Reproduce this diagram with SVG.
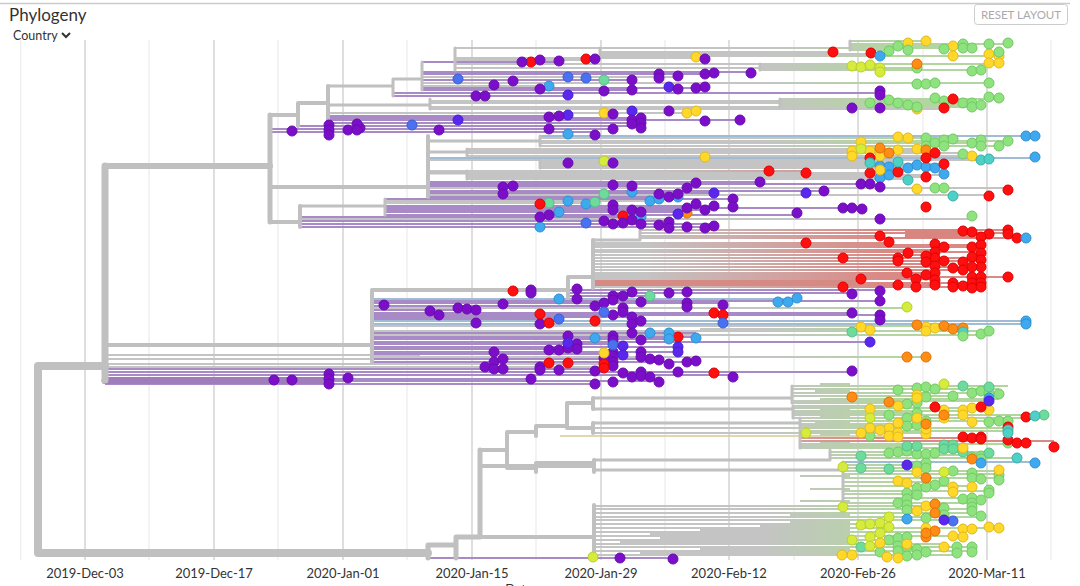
<svg xmlns="http://www.w3.org/2000/svg" width="1080" height="586" viewBox="0 0 1080 586">
<style>
text{font-family:Lato,"Liberation Sans",sans-serif;fill:#333}
.ax{font-size:13px;text-anchor:middle}
.gM{stroke:#dedede;stroke-width:2}
.gm{stroke:#efefef;stroke-width:1.5}
.bb{fill:none;stroke:#c0c0c0;stroke-linecap:round;stroke-linejoin:round}
.lg{fill:none;stroke:#c4c4c4;stroke-width:2}
.lp{fill:none;stroke:#a88ac6;stroke-width:2}
.lb{fill:none;stroke:#9fbcd4;stroke-width:2}
.ln{fill:none;stroke:url(#gg);stroke-width:2}
.lr{fill:none;stroke:url(#gr);stroke-width:2}
circle{stroke-width:1}
.p{fill:#7b0fc9;stroke:#6a0bb0}
.i{fill:#5a27ee;stroke:#4a1ed0}
.mb{fill:#4a72f0;stroke:#3a5fd0}
.b{fill:#3fa9ef;stroke:#2f8fd0}
.tl{fill:#4fd0c6;stroke:#3bb0a8}
.mt{fill:#6ddb9c;stroke:#55c084}
.m{fill:#8ee37e;stroke:#72c866}
.yg{fill:#d6ec3c;stroke:#b8cf2a}
.y{fill:#ffd82a;stroke:#e0b820}
.o{fill:#ff8c14;stroke:#e07000}
.r{fill:#ff1010;stroke:#e00000}
</style>
<defs>
<linearGradient id="gg" gradientUnits="userSpaceOnUse" x1="760" y1="0" x2="900" y2="0"><stop offset="0" stop-color="#c4c4c4"/><stop offset="1" stop-color="#b3d6a0"/></linearGradient>
<linearGradient id="gr" gradientUnits="userSpaceOnUse" x1="640" y1="0" x2="880" y2="0"><stop offset="0" stop-color="#c4c4c4"/><stop offset="1" stop-color="#da8a86"/></linearGradient>
</defs>
<rect width="1080" height="586" fill="#fff"/>
<g id="header">
<line x1="0" y1="3.5" x2="1070" y2="3.5" stroke="#ccc" stroke-width="1.5"/>
<text x="9" y="21" font-size="17">Phylogeny</text>
<text x="13" y="40" font-size="12.5">Country</text>
<path d="M62 33 L66 37 L70 33" fill="none" stroke="#333" stroke-width="2"/>
<rect x="974.5" y="4.5" width="93" height="20" rx="3" fill="#fff" stroke="#ccc"/>
<text x="1021" y="19" font-size="11.5" text-anchor="middle" style="fill:#aaa">RESET LAYOUT</text>
</g>
<g id="grid">
<path class="gm" d="M20.7 40V560M149 40V560M278 40V560M407 40V560M536 40V560M665 40V560M794 40V560M923 40V560M1051 40V560"/>
<path class="gM" d="M85 40V560M214 40V560M343 40V560M472 40V560M601 40V560M729 40V560M858 40V560M987 40V560"/>
<text class="ax" x="85" y="578">2019-Dec-03</text>
<text class="ax" x="214" y="578">2019-Dec-17</text>
<text class="ax" x="343" y="578">2020-Jan-01</text>
<text class="ax" x="472" y="578">2020-Jan-15</text>
<text class="ax" x="601" y="578">2020-Jan-29</text>
<text class="ax" x="729" y="578">2020-Feb-12</text>
<text class="ax" x="858" y="578">2020-Feb-26</text>
<text class="ax" x="987" y="578">2020-Mar-11</text>
<text class="ax" x="519" y="594">Date</text>
</g>
<g id="branches">
<path class="ln" d="M850 41H926M850 44H1008M850 46H953M455 48H972M850 50H889M600 56H999M455 64H999M760 66H870M455 68H917M760 70H981M422 83H989M780 99H999M430 101H944M430 103H972M780 105H981M430 107H972M540 138H953M540 141H1008M540 143H972M540 146H999M372 308H907M372 326H963M700 329H870M372 331H989M372 335H981M372 357H926M792 386H1008M792 389H999M792 393H989M792 396H953M820 399H999M792 401H989M792 403H917M793 406H898M793 408H989M793 411H963M793 413H917M793 415H1044M793 418H1026M800 421H1008M800 424H926M800 426H917M593 428H1008M800 431H1008M593 433H926M800 444H1008M800 446H917M800 448H963M830 452H989M830 455H981M830 458H1017M843 465H917M843 468H926M843 471H999M843 474H999M843 478H999M843 482H944M843 486H972M843 491H989M843 494H917M843 498H981M843 503H972M594 506H926M594 509H972M594 513H972M594 517H981M594 520H953M594 524H889M594 528H999M594 532H935M594 536H963M594 540H898M594 544H944M594 547H972M594 551H972M594 555H957M790 515H850M790 522H850M760 526H850M700 530H850M650 534H850M660 538H850M620 542H850M700 549H850M640 553H850M800 476H850M810 489H850M800 501H850M820 384H850M815 391H850M820 410H850M820 416H850M815 423H850M820 435H850M820 442H850"/>
<path class="lg" d="M600 52H834M600 54H871M455 58H705M455 60H595M422 77H678M422 86H549M430 109H944M328 113H696M467 149H917M467 151H926M467 153H963M467 156H972M428 160H981M540 162H898M540 164H944M540 166H917M540 168H935M467 173H898M467 175H944M467 177H926M467 179H908M428 188H1008M428 195H989M385 201H659M385 203H595M300 219H972M105 364H604M105 367H613M105 355H420M105 359H440"/>
<path d="M560 436H898" stroke="#d3cc9a" stroke-width="1.5" fill="none"/>
<path class="lp" d="M422 62H559M422 72H751M422 74H714M422 80H632M422 88H705M422 90H632M393 96H568M328 116H568M328 118H641M328 120H740M328 123H641M298 126H641M270 132H595M428 182H760M428 184H870M428 186H632M428 191H824M428 193H714M428 197H678M385 199H733M385 206H714M385 208H862M385 210H705M385 212H687M385 215H797M300 217H641M300 221H669M300 224H714M300 227H705M568 290H880M568 293H852M568 296H650M372 301H880M372 303H723M372 306H595M372 310H476M372 313H852M372 315H880M372 317H632M372 319H559M372 333H696M372 337H696M372 339H669M372 342H870M372 344H623M372 347H678M372 349H577M372 352H678M372 354H623M372 359H659M372 362H696M105 369H595M105 372H852M105 375H738M105 379H531M330 381H659M105 384H595M428 558H673"/>
<path class="lp" stroke-width="4.5" d="M393 93H880M270 129H613"/>
<path d="M105 380.5H330" stroke="#a07cba" stroke-width="7" fill="none" stroke-linecap="round"/>
<path class="lb" d="M540 136H1035M428 158H1035M372 299H797M372 321H1026M372 324H1026M843 462H1035"/>
<path class="lr" d="M640 230H1008M640 233H1008M640 236H880M640 238H1026M593 243H889M593 245H981M593 247H972M593 250H935M593 252H981M593 255H926M593 258H972M593 261H981M593 264H935M593 267H981M593 270H963M593 273H935M593 275H926M593 277H1008M593 279H935M860 283H981M593 285H935M593 287H981M428 171H806M800 438H981M800 441H1054"/>
<path d="M593 283H860" stroke="#d58a84" stroke-width="6" fill="none"/>
<path d="M905 234H975" stroke="#d8857f" stroke-width="9" fill="none"/>
<path class="bb" stroke-width="8" d="M38 366V553M38 366H105M38 553H428"/>
<path class="bb" stroke-width="7" d="M105 166V380"/>
<path class="bb" stroke-width="6" d="M105 166H270"/>
<path class="bb" stroke-width="5" d="M270 115V222M480 450V537M428 545V558M428 545H456M456 537V558M456 537H480"/>
<path class="bb" stroke-width="4" d="M105 345H372M372 290V362M270 115H298M298 103V126M298 103H328M328 86V126M270 187H428M428 136V197M270 222H300M300 206V227M372 290H568M568 277V298M568 277H593M593 240V288M480 450H507M507 432V468M507 432H536M536 426V436M536 426H567M567 403V428M567 403H593M567 428H593M593 398V409M593 423V433M507 468H536M536 463V472M536 463H593M480 466H594M594 460V472M480 537H594M594 505V553"/>
<path class="bb" stroke-width="3" d="M328 86H393M393 79V96M393 79H422M422 62V90M455 48V70M600 48V56M850 41V50M760 64V70M328 105H430M430 99V109M780 99V107M428 141H540M540 136V146M428 152H467M467 149V156M540 160V168M467 171V179M428 173H467M300 206H385M385 199V215M593 240H640M640 230V240M593 398H792M792 386V403M593 409H793M793 406V418M593 423H800M800 418V448M594 460H830M830 450V460M594 470H843M843 462V503"/>
</g>
<g id="tips-upper">
<g class="y"><circle cx="908" cy="43" r="5"/><circle cx="926" cy="41" r="5"/><circle cx="953" cy="46" r="5"/><circle cx="953" cy="56" r="5"/><circle cx="989" cy="54" r="5"/><circle cx="999" cy="56" r="5"/><circle cx="696" cy="57" r="5"/><circle cx="989" cy="63" r="5"/><circle cx="999" cy="63" r="5"/><circle cx="917" cy="109" r="5"/><circle cx="604" cy="113" r="5"/><circle cx="687" cy="113" r="5"/><circle cx="696" cy="111" r="5"/></g>
<g class="m"><circle cx="889" cy="51" r="5"/><circle cx="898" cy="46" r="5"/><circle cx="908" cy="50" r="5"/><circle cx="944" cy="49" r="5"/><circle cx="963" cy="44" r="5"/><circle cx="963" cy="48" r="5"/><circle cx="972" cy="48" r="5"/><circle cx="989" cy="44" r="5"/><circle cx="1008" cy="43" r="5"/><circle cx="999" cy="52" r="5"/><circle cx="917" cy="68" r="5"/><circle cx="972" cy="71" r="5"/><circle cx="981" cy="70" r="5"/><circle cx="917" cy="84" r="5"/><circle cx="926" cy="84" r="5"/><circle cx="935" cy="83" r="5"/><circle cx="989" cy="83" r="5"/><circle cx="870" cy="103" r="5"/><circle cx="889" cy="100" r="5"/><circle cx="898" cy="103" r="5"/><circle cx="908" cy="105" r="5"/><circle cx="917" cy="107" r="5"/><circle cx="935" cy="98" r="5"/><circle cx="944" cy="101" r="5"/><circle cx="963" cy="103" r="5"/><circle cx="972" cy="103" r="5"/><circle cx="972" cy="107" r="5"/><circle cx="981" cy="105" r="5"/><circle cx="989" cy="97" r="5"/><circle cx="999" cy="98" r="5"/></g>
<g class="mt"><circle cx="604" cy="80" r="5"/></g>
<g class="r"><circle cx="833" cy="52" r="5"/><circle cx="871" cy="53" r="5"/><circle cx="586" cy="59" r="5"/><circle cx="531" cy="62" r="5"/><circle cx="953" cy="99" r="5"/><circle cx="944" cy="108" r="5"/></g>
<g class="b"><circle cx="880" cy="56" r="5"/><circle cx="549" cy="86" r="5"/><circle cx="568" cy="134" r="5"/></g>
<g class="mb"><circle cx="458" cy="79" r="5"/><circle cx="568" cy="77" r="5"/><circle cx="586" cy="78" r="5"/><circle cx="412" cy="125" r="5"/></g>
<g class="i"><circle cx="669" cy="87" r="5"/><circle cx="568" cy="95" r="5"/><circle cx="458" cy="120" r="5"/><circle cx="568" cy="115" r="5"/><circle cx="632" cy="111" r="5"/></g>
<g class="p"><circle cx="705" cy="59" r="5"/><circle cx="595" cy="59" r="5"/><circle cx="522" cy="62" r="5"/><circle cx="540" cy="60" r="5"/><circle cx="559" cy="61" r="5"/><circle cx="751" cy="73" r="5"/><circle cx="494" cy="85" r="5"/><circle cx="513" cy="81" r="5"/><circle cx="540" cy="89" r="5"/><circle cx="604" cy="91" r="5"/><circle cx="632" cy="80" r="5"/><circle cx="632" cy="90" r="5"/><circle cx="659" cy="74" r="5"/><circle cx="659" cy="78" r="5"/><circle cx="678" cy="76" r="5"/><circle cx="678" cy="89" r="5"/><circle cx="696" cy="88" r="5"/><circle cx="705" cy="74" r="5"/><circle cx="705" cy="87" r="5"/><circle cx="714" cy="73" r="5"/><circle cx="476" cy="96" r="5"/><circle cx="485" cy="96" r="5"/><circle cx="880" cy="91" r="5"/><circle cx="880" cy="95" r="5"/><circle cx="852" cy="108" r="5"/><circle cx="880" cy="108" r="5"/><circle cx="360" cy="128" r="5"/><circle cx="439" cy="130" r="5"/><circle cx="549" cy="117" r="5"/><circle cx="559" cy="116" r="5"/><circle cx="613" cy="114" r="5"/><circle cx="632" cy="120" r="5"/><circle cx="641" cy="118" r="5"/><circle cx="641" cy="123" r="5"/><circle cx="641" cy="128" r="5"/><circle cx="632" cy="124" r="5"/><circle cx="669" cy="111" r="5"/><circle cx="705" cy="121" r="5"/><circle cx="549" cy="129" r="5"/><circle cx="595" cy="135" r="5"/><circle cx="613" cy="129" r="5"/><circle cx="740" cy="120" r="5"/><circle cx="292" cy="131" r="5"/><circle cx="329" cy="125" r="5"/><circle cx="329" cy="130" r="5"/><circle cx="329" cy="135" r="5"/><circle cx="348" cy="130" r="5"/><circle cx="357" cy="124" r="5"/><circle cx="357" cy="130" r="5"/></g>
<g class="yg"><circle cx="852" cy="66" r="5"/><circle cx="861" cy="67" r="5"/><circle cx="870" cy="65" r="5"/><circle cx="880" cy="68" r="5"/><circle cx="880" cy="72" r="5"/></g>
<g class="o"><circle cx="917" cy="64" r="5"/></g>
</g>
<g id="tips-mid">
<g class="b"><circle cx="1026" cy="136" r="5"/><circle cx="1035" cy="136" r="5"/><circle cx="1035" cy="157" r="5"/><circle cx="880" cy="166" r="5"/><circle cx="889" cy="167" r="5"/><circle cx="908" cy="168" r="5"/><circle cx="917" cy="165" r="5"/><circle cx="926" cy="167" r="5"/><circle cx="935" cy="168" r="5"/><circle cx="944" cy="174" r="5"/><circle cx="889" cy="175" r="5"/><circle cx="880" cy="178" r="5"/><circle cx="632" cy="192" r="5"/><circle cx="650" cy="201" r="5"/><circle cx="659" cy="199" r="5"/><circle cx="678" cy="197" r="5"/><circle cx="568" cy="201" r="5"/><circle cx="586" cy="204" r="5"/><circle cx="559" cy="212" r="5"/><circle cx="540" cy="227" r="5"/><circle cx="641" cy="217" r="5"/></g>
<g class="mb"><circle cx="586" cy="223" r="5"/></g>
<g class="m"><circle cx="926" cy="138" r="5"/><circle cx="926" cy="146" r="5"/><circle cx="935" cy="143" r="5"/><circle cx="944" cy="140" r="5"/><circle cx="944" cy="146" r="5"/><circle cx="953" cy="139" r="5"/><circle cx="972" cy="143" r="5"/><circle cx="981" cy="140" r="5"/><circle cx="981" cy="146" r="5"/><circle cx="999" cy="146" r="5"/><circle cx="1008" cy="141" r="5"/><circle cx="963" cy="154" r="5"/><circle cx="935" cy="188" r="5"/><circle cx="944" cy="188" r="5"/><circle cx="972" cy="216" r="5"/></g>
<g class="mt"><circle cx="604" cy="194" r="5"/><circle cx="549" cy="203" r="5"/><circle cx="595" cy="202" r="5"/></g>
<g class="y"><circle cx="898" cy="137" r="5"/><circle cx="908" cy="138" r="5"/><circle cx="861" cy="142" r="5"/><circle cx="852" cy="151" r="5"/><circle cx="852" cy="156" r="5"/><circle cx="870" cy="151" r="5"/><circle cx="880" cy="156" r="5"/><circle cx="898" cy="150" r="5"/><circle cx="917" cy="149" r="5"/><circle cx="972" cy="156" r="5"/><circle cx="880" cy="170" r="5"/><circle cx="917" cy="189" r="5"/><circle cx="705" cy="157" r="5"/></g>
<g class="yg"><circle cx="861" cy="149" r="5"/><circle cx="604" cy="161" r="5"/></g>
<g class="o"><circle cx="880" cy="148" r="5"/><circle cx="889" cy="153" r="5"/><circle cx="926" cy="150" r="5"/><circle cx="687" cy="213" r="5"/></g>
<g class="r"><circle cx="935" cy="153" r="5"/><circle cx="870" cy="158" r="5"/><circle cx="926" cy="158" r="5"/><circle cx="944" cy="164" r="5"/><circle cx="769" cy="171" r="5"/><circle cx="806" cy="173" r="5"/><circle cx="870" cy="173" r="5"/><circle cx="898" cy="172" r="5"/><circle cx="926" cy="177" r="5"/><circle cx="989" cy="196" r="5"/><circle cx="1008" cy="190" r="5"/><circle cx="926" cy="207" r="5"/><circle cx="540" cy="204" r="5"/><circle cx="623" cy="216" r="5"/></g>
<g class="tl"><circle cx="981" cy="160" r="5"/><circle cx="989" cy="159" r="5"/><circle cx="870" cy="163" r="5"/><circle cx="898" cy="162" r="5"/><circle cx="908" cy="180" r="5"/><circle cx="953" cy="196" r="5"/></g>
<g class="p"><circle cx="760" cy="182" r="5"/><circle cx="824" cy="191" r="5"/><circle cx="861" cy="184" r="5"/><circle cx="870" cy="184" r="5"/><circle cx="880" cy="187" r="5"/><circle cx="613" cy="163" r="5"/><circle cx="568" cy="163" r="5"/><circle cx="503" cy="187" r="5"/><circle cx="513" cy="186" r="5"/><circle cx="503" cy="194" r="5"/><circle cx="613" cy="185" r="5"/><circle cx="632" cy="186" r="5"/><circle cx="696" cy="183" r="5"/><circle cx="687" cy="188" r="5"/><circle cx="659" cy="194" r="5"/><circle cx="669" cy="197" r="5"/><circle cx="678" cy="194" r="5"/><circle cx="733" cy="199" r="5"/><circle cx="733" cy="207" r="5"/><circle cx="797" cy="213" r="5"/><circle cx="843" cy="208" r="5"/><circle cx="852" cy="208" r="5"/><circle cx="862" cy="209" r="5"/><circle cx="880" cy="219" r="5"/><circle cx="549" cy="215" r="5"/><circle cx="540" cy="217" r="5"/><circle cx="613" cy="205" r="5"/><circle cx="613" cy="210" r="5"/><circle cx="632" cy="210" r="5"/><circle cx="641" cy="212" r="5"/><circle cx="604" cy="221" r="5"/><circle cx="613" cy="224" r="5"/><circle cx="623" cy="223" r="5"/><circle cx="632" cy="220" r="5"/><circle cx="641" cy="224" r="5"/><circle cx="659" cy="225" r="5"/><circle cx="669" cy="222" r="5"/><circle cx="669" cy="228" r="5"/><circle cx="687" cy="227" r="5"/><circle cx="705" cy="228" r="5"/><circle cx="714" cy="226" r="5"/><circle cx="687" cy="208" r="5"/><circle cx="696" cy="204" r="5"/><circle cx="705" cy="210" r="5"/><circle cx="714" cy="206" r="5"/></g>
<g class="i"><circle cx="806" cy="193" r="5"/><circle cx="714" cy="193" r="5"/><circle cx="678" cy="214" r="5"/></g>
</g>
<g id="tips-red">
<g class="r"><circle cx="880" cy="236" r="5"/><circle cx="889" cy="242" r="5"/><circle cx="806" cy="243" r="5"/><circle cx="963" cy="231" r="5"/><circle cx="972" cy="232" r="5"/><circle cx="989" cy="234" r="5"/><circle cx="1008" cy="230" r="5"/><circle cx="1008" cy="234" r="5"/><circle cx="1017" cy="238" r="5"/><circle cx="935" cy="244" r="5"/><circle cx="944" cy="247" r="5"/><circle cx="935" cy="252" r="5"/><circle cx="935" cy="258" r="5"/><circle cx="926" cy="256" r="5"/><circle cx="908" cy="253" r="5"/><circle cx="898" cy="258" r="5"/><circle cx="898" cy="261" r="5"/><circle cx="843" cy="258" r="5"/><circle cx="944" cy="261" r="5"/><circle cx="926" cy="262" r="5"/><circle cx="935" cy="266" r="5"/><circle cx="953" cy="268" r="5"/><circle cx="963" cy="262" r="5"/><circle cx="972" cy="247" r="5"/><circle cx="981" cy="237" r="5"/><circle cx="981" cy="245" r="5"/><circle cx="981" cy="253" r="5"/><circle cx="981" cy="260" r="5"/><circle cx="981" cy="267" r="5"/><circle cx="972" cy="257" r="5"/><circle cx="972" cy="267" r="5"/><circle cx="972" cy="277" r="5"/><circle cx="981" cy="277" r="5"/><circle cx="963" cy="270" r="5"/><circle cx="1008" cy="277" r="5"/><circle cx="935" cy="273" r="5"/><circle cx="926" cy="275" r="5"/><circle cx="916" cy="279" r="5"/><circle cx="907" cy="273" r="5"/><circle cx="898" cy="285" r="5"/><circle cx="861" cy="279" r="5"/><circle cx="843" cy="287" r="5"/><circle cx="916" cy="287" r="5"/><circle cx="935" cy="280" r="5"/><circle cx="953" cy="283" r="5"/><circle cx="953" cy="287" r="5"/><circle cx="963" cy="286" r="5"/><circle cx="972" cy="283" r="5"/><circle cx="972" cy="288" r="5"/><circle cx="981" cy="283" r="5"/><circle cx="981" cy="287" r="5"/><circle cx="935" cy="285" r="5"/><circle cx="513" cy="291" r="5"/></g>
<g class="b"><circle cx="1026" cy="238" r="5"/><circle cx="559" cy="299" r="5"/><circle cx="778" cy="302" r="5"/><circle cx="788" cy="302" r="5"/><circle cx="797" cy="298" r="5"/></g>
<g class="p"><circle cx="531" cy="290" r="5"/><circle cx="531" cy="293" r="5"/><circle cx="577" cy="289" r="5"/><circle cx="632" cy="292" r="5"/><circle cx="669" cy="293" r="5"/><circle cx="687" cy="292" r="5"/><circle cx="613" cy="296" r="5"/><circle cx="623" cy="296" r="5"/><circle cx="641" cy="302" r="5"/><circle cx="577" cy="299" r="5"/><circle cx="852" cy="294" r="5"/><circle cx="880" cy="291" r="5"/><circle cx="880" cy="301" r="5"/><circle cx="613" cy="300" r="5"/></g>
<g class="mt"><circle cx="650" cy="296" r="5"/></g>
</g>
<g id="tips-purple">
<g class="p"><circle cx="723" cy="305" r="5"/><circle cx="384" cy="305" r="5"/><circle cx="430" cy="311" r="5"/><circle cx="439" cy="315" r="5"/><circle cx="458" cy="308" r="5"/><circle cx="467" cy="309" r="5"/><circle cx="476" cy="310" r="5"/><circle cx="476" cy="323" r="5"/><circle cx="503" cy="304" r="5"/><circle cx="540" cy="324" r="5"/><circle cx="595" cy="306" r="5"/><circle cx="604" cy="303" r="5"/><circle cx="613" cy="315" r="5"/><circle cx="623" cy="308" r="5"/><circle cx="623" cy="312" r="5"/><circle cx="632" cy="317" r="5"/><circle cx="632" cy="324" r="5"/><circle cx="641" cy="321" r="5"/><circle cx="687" cy="303" r="5"/><circle cx="687" cy="307" r="5"/><circle cx="852" cy="313" r="5"/><circle cx="880" cy="315" r="5"/><circle cx="880" cy="320" r="5"/><circle cx="632" cy="333" r="5"/><circle cx="568" cy="336" r="5"/><circle cx="577" cy="344" r="5"/><circle cx="577" cy="349" r="5"/><circle cx="613" cy="336" r="5"/><circle cx="613" cy="340" r="5"/><circle cx="641" cy="340" r="5"/><circle cx="549" cy="350" r="5"/><circle cx="559" cy="350" r="5"/><circle cx="568" cy="348" r="5"/><circle cx="604" cy="358" r="5"/><circle cx="613" cy="352" r="5"/><circle cx="613" cy="356" r="5"/><circle cx="613" cy="362" r="5"/><circle cx="613" cy="366" r="5"/><circle cx="641" cy="352" r="5"/><circle cx="641" cy="357" r="5"/><circle cx="650" cy="359" r="5"/><circle cx="659" cy="360" r="5"/><circle cx="669" cy="364" r="5"/><circle cx="687" cy="362" r="5"/><circle cx="696" cy="361" r="5"/><circle cx="678" cy="372" r="5"/><circle cx="494" cy="352" r="5"/><circle cx="494" cy="362" r="5"/><circle cx="503" cy="359" r="5"/><circle cx="485" cy="367" r="5"/><circle cx="494" cy="369" r="5"/><circle cx="503" cy="369" r="5"/><circle cx="540" cy="367" r="5"/><circle cx="540" cy="370" r="5"/><circle cx="559" cy="370" r="5"/><circle cx="595" cy="371" r="5"/><circle cx="623" cy="373" r="5"/><circle cx="632" cy="377" r="5"/><circle cx="641" cy="372" r="5"/><circle cx="641" cy="376" r="5"/><circle cx="650" cy="377" r="5"/><circle cx="659" cy="382" r="5"/><circle cx="595" cy="384" r="5"/><circle cx="613" cy="382" r="5"/><circle cx="531" cy="379" r="5"/><circle cx="852" cy="371" r="5"/><circle cx="733" cy="377" r="5"/><circle cx="274" cy="380" r="5"/><circle cx="292" cy="380" r="5"/><circle cx="329" cy="374" r="5"/><circle cx="329" cy="379" r="5"/><circle cx="329" cy="384" r="5"/><circle cx="348" cy="378" r="5"/></g>
<g class="r"><circle cx="540" cy="314" r="5"/><circle cx="549" cy="323" r="5"/><circle cx="595" cy="321" r="5"/><circle cx="714" cy="313" r="5"/><circle cx="723" cy="315" r="5"/><circle cx="678" cy="337" r="5"/><circle cx="604" cy="364" r="5"/><circle cx="604" cy="368" r="5"/><circle cx="549" cy="363" r="5"/><circle cx="568" cy="363" r="5"/><circle cx="714" cy="373" r="5"/></g>
<g class="mb"><circle cx="559" cy="319" r="5"/><circle cx="604" cy="312" r="5"/><circle cx="723" cy="323" r="5"/><circle cx="613" cy="345" r="5"/></g>
<g class="b"><circle cx="1026" cy="321" r="5"/><circle cx="1026" cy="324" r="5"/><circle cx="650" cy="333" r="5"/><circle cx="669" cy="333" r="5"/><circle cx="669" cy="339" r="5"/><circle cx="696" cy="338" r="5"/><circle cx="595" cy="338" r="5"/></g>
<g class="i"><circle cx="870" cy="342" r="5"/><circle cx="568" cy="343" r="5"/><circle cx="623" cy="346" r="5"/><circle cx="623" cy="355" r="5"/><circle cx="678" cy="347" r="5"/><circle cx="678" cy="352" r="5"/></g>
<g class="y"><circle cx="926" cy="327" r="5"/><circle cx="926" cy="331" r="5"/><circle cx="935" cy="328" r="5"/><circle cx="861" cy="327" r="5"/><circle cx="870" cy="330" r="5"/><circle cx="604" cy="353" r="5"/></g>
<g class="o"><circle cx="917" cy="325" r="5"/><circle cx="944" cy="326" r="5"/><circle cx="953" cy="329" r="5"/><circle cx="963" cy="328" r="5"/><circle cx="907" cy="357" r="5"/><circle cx="926" cy="357" r="5"/></g>
<g class="tl"><circle cx="963" cy="332" r="5"/></g>
<g class="m"><circle cx="963" cy="336" r="5"/><circle cx="981" cy="334" r="5"/><circle cx="989" cy="331" r="5"/></g>
<g class="mt"><circle cx="852" cy="332" r="5"/></g>
<g class="yg"><circle cx="907" cy="307" r="5"/></g>
</g>
<g id="tips-lower">
<g class="m"><circle cx="898" cy="390" r="5"/><circle cx="917" cy="388" r="5"/><circle cx="926" cy="387" r="5"/><circle cx="935" cy="389" r="5"/><circle cx="953" cy="396" r="5"/><circle cx="972" cy="393" r="5"/><circle cx="981" cy="391" r="5"/><circle cx="989" cy="393" r="5"/><circle cx="999" cy="394" r="5"/><circle cx="907" cy="404" r="5"/><circle cx="917" cy="403" r="5"/><circle cx="926" cy="397" r="5"/><circle cx="889" cy="415" r="5"/><circle cx="917" cy="413" r="5"/><circle cx="907" cy="418" r="5"/><circle cx="989" cy="422" r="5"/><circle cx="999" cy="421" r="5"/><circle cx="1008" cy="421" r="5"/><circle cx="926" cy="421" r="5"/><circle cx="907" cy="426" r="5"/><circle cx="917" cy="425" r="5"/><circle cx="870" cy="436" r="5"/><circle cx="1008" cy="443" r="5"/><circle cx="889" cy="453" r="5"/><circle cx="898" cy="452" r="5"/><circle cx="907" cy="451" r="5"/><circle cx="917" cy="454" r="5"/><circle cx="926" cy="454" r="5"/><circle cx="935" cy="453" r="5"/><circle cx="972" cy="457" r="5"/><circle cx="981" cy="456" r="5"/><circle cx="981" cy="459" r="5"/><circle cx="917" cy="466" r="5"/><circle cx="926" cy="463" r="5"/><circle cx="926" cy="468" r="5"/><circle cx="935" cy="485" r="5"/><circle cx="944" cy="481" r="5"/><circle cx="953" cy="471" r="5"/><circle cx="972" cy="473" r="5"/><circle cx="972" cy="478" r="5"/><circle cx="981" cy="479" r="5"/><circle cx="999" cy="475" r="5"/><circle cx="999" cy="480" r="5"/><circle cx="989" cy="490" r="5"/><circle cx="989" cy="493" r="5"/><circle cx="917" cy="488" r="5"/><circle cx="926" cy="487" r="5"/><circle cx="907" cy="493" r="5"/><circle cx="917" cy="495" r="5"/><circle cx="963" cy="499" r="5"/><circle cx="972" cy="498" r="5"/><circle cx="972" cy="503" r="5"/><circle cx="972" cy="507" r="5"/><circle cx="972" cy="511" r="5"/><circle cx="981" cy="500" r="5"/><circle cx="898" cy="503" r="5"/><circle cx="907" cy="499" r="5"/><circle cx="907" cy="505" r="5"/><circle cx="907" cy="510" r="5"/><circle cx="944" cy="508" r="5"/><circle cx="944" cy="515" r="5"/><circle cx="926" cy="518" r="5"/><circle cx="981" cy="516" r="5"/><circle cx="889" cy="540" r="5"/><circle cx="898" cy="538" r="5"/><circle cx="898" cy="546" r="5"/><circle cx="898" cy="551" r="5"/><circle cx="907" cy="537" r="5"/><circle cx="907" cy="547" r="5"/><circle cx="907" cy="556" r="5"/><circle cx="917" cy="549" r="5"/><circle cx="917" cy="555" r="5"/><circle cx="926" cy="552" r="5"/><circle cx="972" cy="547" r="5"/><circle cx="972" cy="552" r="5"/><circle cx="880" cy="552" r="5"/><circle cx="957" cy="547" r="5"/><circle cx="957" cy="553" r="5"/></g>
<g class="mt"><circle cx="963" cy="386" r="5"/><circle cx="989" cy="387" r="5"/><circle cx="1044" cy="415" r="5"/><circle cx="907" cy="446" r="5"/><circle cx="917" cy="446" r="5"/><circle cx="944" cy="445" r="5"/><circle cx="953" cy="445" r="5"/><circle cx="944" cy="449" r="5"/><circle cx="953" cy="449" r="5"/><circle cx="861" cy="456" r="5"/><circle cx="963" cy="452" r="5"/><circle cx="989" cy="453" r="5"/><circle cx="861" cy="468" r="5"/><circle cx="889" cy="469" r="5"/><circle cx="861" cy="547" r="5"/></g>
<g class="y"><circle cx="898" cy="406" r="5"/><circle cx="917" cy="395" r="5"/><circle cx="917" cy="398" r="5"/><circle cx="944" cy="410" r="5"/><circle cx="963" cy="410" r="5"/><circle cx="963" cy="415" r="5"/><circle cx="972" cy="408" r="5"/><circle cx="989" cy="410" r="5"/><circle cx="870" cy="409" r="5"/><circle cx="917" cy="418" r="5"/><circle cx="972" cy="422" r="5"/><circle cx="944" cy="418" r="5"/><circle cx="898" cy="423" r="5"/><circle cx="889" cy="428" r="5"/><circle cx="880" cy="430" r="5"/><circle cx="870" cy="428" r="5"/><circle cx="861" cy="433" r="5"/><circle cx="889" cy="436" r="5"/><circle cx="898" cy="433" r="5"/><circle cx="898" cy="437" r="5"/><circle cx="926" cy="434" r="5"/><circle cx="926" cy="429" r="5"/><circle cx="963" cy="448" r="5"/><circle cx="917" cy="472" r="5"/><circle cx="898" cy="481" r="5"/><circle cx="907" cy="483" r="5"/><circle cx="999" cy="470" r="5"/><circle cx="953" cy="487" r="5"/><circle cx="953" cy="492" r="5"/><circle cx="972" cy="487" r="5"/><circle cx="926" cy="506" r="5"/><circle cx="917" cy="511" r="5"/><circle cx="926" cy="528" r="5"/><circle cx="963" cy="529" r="5"/><circle cx="972" cy="529" r="5"/><circle cx="989" cy="527" r="5"/><circle cx="999" cy="528" r="5"/><circle cx="953" cy="536" r="5"/><circle cx="963" cy="537" r="5"/><circle cx="898" cy="558" r="5"/><circle cx="907" cy="544" r="5"/><circle cx="944" cy="547" r="5"/><circle cx="852" cy="555" r="5"/><circle cx="880" cy="543" r="5"/><circle cx="842" cy="555" r="5"/><circle cx="887" cy="557" r="5"/></g>
<g class="yg"><circle cx="944" cy="384" r="5"/><circle cx="870" cy="418" r="5"/><circle cx="806" cy="433" r="5"/><circle cx="843" cy="467" r="5"/><circle cx="944" cy="472" r="5"/><circle cx="843" cy="507" r="5"/><circle cx="861" cy="525" r="5"/><circle cx="870" cy="524" r="5"/><circle cx="880" cy="523" r="5"/><circle cx="889" cy="517" r="5"/><circle cx="889" cy="527" r="5"/><circle cx="852" cy="540" r="5"/><circle cx="870" cy="537" r="5"/><circle cx="880" cy="533" r="5"/><circle cx="870" cy="546" r="5"/><circle cx="593" cy="557" r="5"/></g>
<g class="o"><circle cx="852" cy="397" r="5"/><circle cx="889" cy="402" r="5"/><circle cx="944" cy="415" r="5"/><circle cx="926" cy="424" r="5"/><circle cx="972" cy="459" r="5"/><circle cx="926" cy="478" r="5"/><circle cx="935" cy="504" r="5"/><circle cx="935" cy="513" r="5"/><circle cx="935" cy="531" r="5"/><circle cx="926" cy="537" r="5"/><circle cx="926" cy="533" r="5"/></g>
<g class="r"><circle cx="935" cy="407" r="5"/><circle cx="981" cy="407" r="5"/><circle cx="1026" cy="417" r="5"/><circle cx="1008" cy="427" r="5"/><circle cx="963" cy="437" r="5"/><circle cx="972" cy="438" r="5"/><circle cx="981" cy="437" r="5"/><circle cx="981" cy="439" r="5"/><circle cx="1008" cy="440" r="5"/><circle cx="1017" cy="443" r="5"/><circle cx="1026" cy="443" r="5"/><circle cx="1054" cy="447" r="5"/></g>
<g class="tl"><circle cx="1035" cy="416" r="5"/><circle cx="1008" cy="430" r="5"/><circle cx="1008" cy="433" r="5"/><circle cx="1017" cy="458" r="5"/></g>
<g class="b"><circle cx="989" cy="398" r="5"/><circle cx="1035" cy="463" r="5"/><circle cx="981" cy="463" r="5"/><circle cx="907" cy="519" r="5"/></g>
<g class="mb"><circle cx="953" cy="521" r="5"/></g>
<g class="i"><circle cx="989" cy="401" r="5"/><circle cx="907" cy="465" r="5"/><circle cx="944" cy="520" r="5"/></g>
<g class="p"><circle cx="620" cy="558" r="5"/><circle cx="673" cy="559" r="5"/></g>
</g>
</svg>
